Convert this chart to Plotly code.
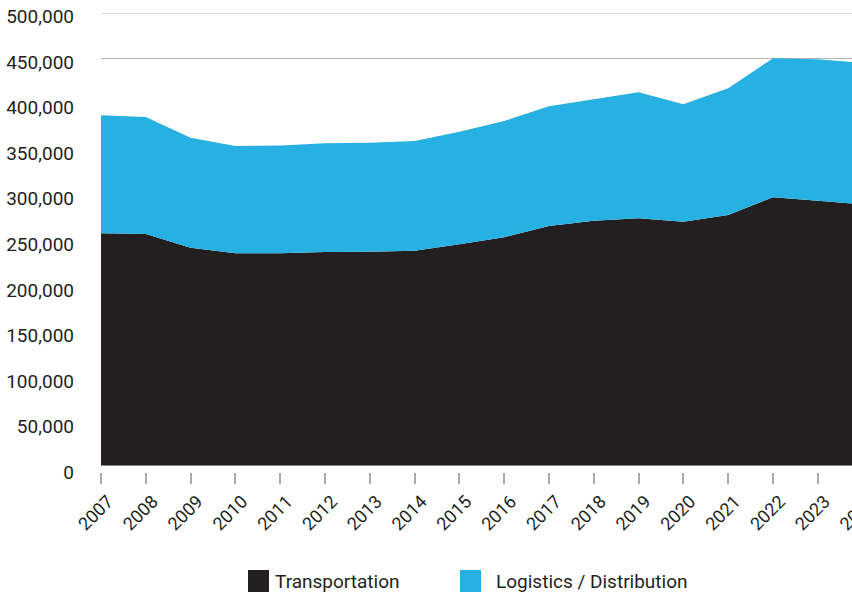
import plotly.graph_objects as go

years = list(range(2007, 2025))
transportation = [256500, 255700, 240500, 234400, 234300, 235900, 236200, 237300, 244300, 252000,
                  264500, 270400, 273000, 269300, 276700, 296300, 292500, 288500]
logistics = [130500, 129300, 121500, 118600, 119300, 120100, 120400, 121200, 124500, 128600,
             132500, 134200, 139300, 129700, 140100, 153700, 156300, 156500]
series_names = ["Transportation", "Logistics / Distribution"]
series_colors = ["#231F20", "#27B1E2"]
y_ticks = list(range(0, 500001, 50000))
grid_vals = [450000, 500000]

FONT = "Roboto, Liberation Sans, sans-serif"
TEXT = "#231F20"
GRID = "#B4B4B4"

W, H = 863, 596
ML, MT, MB = 101, 13, 124
plot_h = H - MT - MB           # paper height in px
gap = 6.7                      # space between area baseline and tick row

fig = go.Figure()
for name, vals, col in zip(series_names, [transportation, logistics], series_colors):
    fig.add_trace(go.Scatter(
        x=years, y=vals, name=name, stackgroup="one", mode="lines",
        fillcolor=col, line=dict(width=0, color=col), showlegend=False,
        hoverinfo="x+y+name",
    ))

# invisible trace that carries the label axis
fig.add_trace(go.Scatter(x=[years[0]], y=[0], yaxis="y2", mode="markers",
                         marker=dict(opacity=0), showlegend=False, hoverinfo="skip"))

fig.update_layout(
    width=W, height=H,
    margin=dict(l=ML, r=0, t=MT, b=MB, autoexpand=False),
    paper_bgcolor="white", plot_bgcolor="rgba(0,0,0,0)",
    font=dict(family=FONT, color=TEXT),
    xaxis=dict(
        range=[years[0], years[-1] + 0.01], anchor="y2", automargin=False,
        tickvals=years, ticktext=[str(y) for y in years], tickangle=-45,
        ticks="outside", ticklen=11, tickwidth=1.5, tickcolor="#AAAAAA",
        tickfont=dict(size=18, family=FONT, color=TEXT),
        ticklabelshift=7, ticklabelstandoff=0, ticklabeloverflow="allow",
        showgrid=False, zeroline=False, showline=False,
    ),
    yaxis=dict(
        range=[0, 500000], domain=[gap / plot_h, 1], anchor="x", automargin=False,
        tickvals=grid_vals, showticklabels=False, ticks="",
        showgrid=True, gridcolor=GRID, gridwidth=1,
        zeroline=True, zerolinecolor="#8A8A8A", zerolinewidth=2,
        showline=False,
    ),
    yaxis2=dict(
        range=[0, 500000], domain=[0, (plot_h - 3.7) / plot_h], anchor="x", automargin=False,
        tickvals=y_ticks, ticktext=[f"{v:,}" for v in y_ticks],
        tickfont=dict(size=19, family=FONT, color=TEXT),
        ticks="", ticklabelstandoff=26,
        showgrid=False, zeroline=False, showline=False,
    ),
    showlegend=False,
)

# top gridline sits on the edge of the plot area, so draw it explicitly
fig.add_shape(type="line", xref="x domain", yref="y", x0=0, x1=1,
              y0=grid_vals[-1], y1=grid_vals[-1], line=dict(color=GRID, width=1),
              layer="below")

# legend swatches and labels
legend_items = [(248, 273), (460, 494)]
for (sx, tx), name, col in zip(legend_items, series_names, series_colors):
    fig.add_shape(type="rect", xref="paper", yref="paper",
                  x0=(sx - ML) / (W - ML), x1=(sx + 21 - ML) / (W - ML),
                  y0=(H - MB - 592) / plot_h, y1=(H - MB - 570) / plot_h,
                  fillcolor=col, line=dict(width=0))
    fig.add_annotation(text=name, xref="paper", yref="paper",
                       x=(tx - ML) / (W - ML), y=(H - MB - 581) / plot_h,
                       xanchor="left", yanchor="middle", showarrow=False,
                       font=dict(size=19, family=FONT, color=TEXT))

fig.write_html(
    "out.html",
    post_script="document.documentElement.style.overflow='hidden';"
                "document.body.style.overflow='hidden';document.body.style.margin='0';",
)
